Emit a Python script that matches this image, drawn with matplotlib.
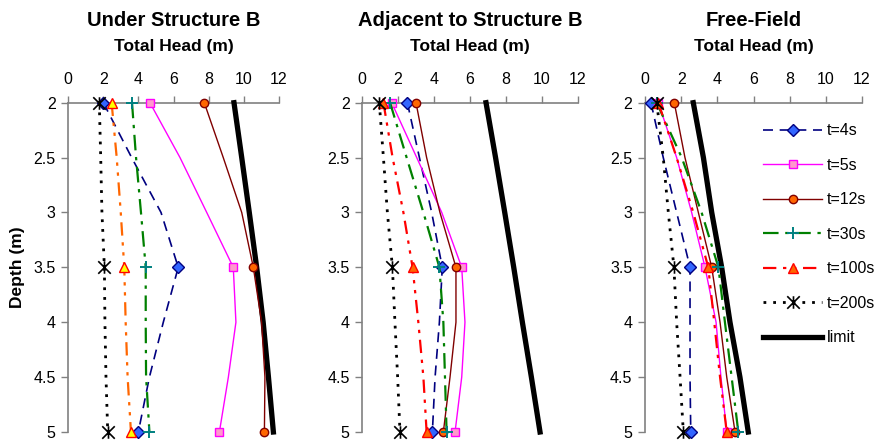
import matplotlib
matplotlib.use("Agg")
import matplotlib.pyplot as plt
from matplotlib.path import Path

plt.rcParams['font.family'] = ['Liberation Sans', 'DejaVu Sans']

# ---------------- data ----------------
depth = [2.0, 2.5, 3.0, 3.5, 4.0, 4.5, 5.0]
marker_depths = [2.0, 3.5, 5.0]
x_ticks = [0, 2, 4, 6, 8, 10, 12]
y_ticks = [2, 2.5, 3, 3.5, 4, 4.5, 5]
y_tick_labels = ['2', '2.5', '3', '3.5', '4', '4.5', '5']
titles = ['Under Structure B', 'Adjacent to Structure B', 'Free-Field']
series_names = ['t=4s', 't=5s', 't=12s', 't=30s', 't=100s', 't=200s', 'limit']

# panel 1 : Under Structure B (total head, m, at each depth)
under_t4 = [2.01, 3.62, 5.29, 6.27, 5.42, 4.63, 4.00]
under_t5 = [4.66, 6.37, 7.89, 9.40, 9.55, 9.12, 8.61]
under_t12 = [7.75, 8.83, 9.88, 10.54, 11.01, 11.20, 11.17]
under_t30 = [3.64, 3.87, 4.15, 4.42, 4.42, 4.44, 4.63]
under_t100 = [2.48, 2.77, 3.00, 3.20, 3.28, 3.39, 3.58]
under_t200 = [1.78, 1.86, 1.93, 2.07, 2.10, 2.16, 2.26]
under_limit = [9.44, 9.88, 10.31, 10.73, 11.10, 11.40, 11.68]

# panel 2 : Adjacent to Structure B
adj_t4 = [2.52, 3.19, 3.87, 4.46, 4.30, 4.06, 3.91]
adj_t5 = [1.65, 3.04, 4.43, 5.54, 5.72, 5.54, 5.17]
adj_t12 = [3.00, 3.59, 4.33, 5.22, 5.22, 4.89, 4.52]
adj_t30 = [1.56, 2.48, 3.41, 4.30, 4.52, 4.61, 4.70]
adj_t100 = [1.19, 1.70, 2.30, 2.81, 3.13, 3.41, 3.59]
adj_t200 = [0.96, 1.19, 1.41, 1.69, 1.83, 1.98, 2.11]
adj_limit = [6.89, 7.42, 7.93, 8.43, 8.91, 9.41, 9.89]

# panel 3 : Free-Field
ff_t4 = [0.33, 1.01, 1.75, 2.49, 2.49, 2.49, 2.53]
ff_t5 = [0.74, 1.75, 2.58, 3.32, 3.93, 4.20, 4.52]
ff_t12 = [1.62, 2.21, 2.95, 3.69, 4.15, 4.52, 4.98]
ff_t30 = [0.65, 2.03, 3.13, 4.06, 4.42, 4.79, 5.16]
ff_t100 = [0.74, 1.75, 2.67, 3.50, 3.83, 4.15, 4.52]
ff_t200 = [0.65, 1.01, 1.29, 1.60, 1.75, 1.94, 2.12]
ff_limit = [2.67, 3.23, 3.69, 4.24, 4.70, 5.25, 5.71]

panels = [
    [under_t4, under_t5, under_t12, under_t30, under_t100, under_t200, under_limit],
    [adj_t4, adj_t5, adj_t12, adj_t30, adj_t100, adj_t200, adj_limit],
    [ff_t4, ff_t5, ff_t12, ff_t30, ff_t100, ff_t200, ff_limit],
]

# Excel-like star marker: an X plus a vertical stroke
star = Path([(-1, -1), (1, 1), (-1, 1), (1, -1), (0, -1), (0, 1)],
            [Path.MOVETO, Path.LINETO, Path.MOVETO, Path.LINETO, Path.MOVETO, Path.LINETO])

# ---------------- styles ----------------
def styles(panel_idx):
    red_line = '#FF6600' if panel_idx == 0 else '#FF0000'
    tri_fill = '#FFFF00' if panel_idx == 0 else '#FF6600'
    return [
        dict(color='#000080', ls=(0, (6, 4)), lw=1.2, marker='D', mfc='#3366FF', mec='#000080', ms=6),
        dict(color='#FF00FF', ls='-', lw=1.0, marker='s', mfc='#FF99CC', mec='#FF00FF', ms=6),
        dict(color='#800000', ls='-', lw=1.0, marker='o', mfc='#FF6600', mec='#800000', ms=6),
        dict(color='#008000', ls=(0, (7, 3, 1.5, 3)), lw=1.6, marker='+', mfc='none', mec='#008080', ms=9, mew=1.4),
        dict(color=red_line, ls=(0, (6, 3, 1.5, 3, 1.5, 3)), lw=1.6, marker='^', mfc=tri_fill, mec='#FF0000', ms=7),
        dict(color='#000000', ls=(0, (1, 2.5)), lw=2.0, marker=star, mfc='none', mec='#000000', ms=9, mew=1.2),
        dict(color='#000000', ls='-', lw=3.8, marker=None),
    ]

W, H = 877, 442
fig = plt.figure(figsize=(W / 100, H / 100), dpi=100)

axes_px = [(68, 279), (362, 578), (645, 862)]
top_px, bot_px = 102.7, 432.0
spine_col = '#808080'

for pi, (x0, x1) in enumerate(axes_px):
    ax = fig.add_axes([x0 / W, 1 - bot_px / H, (x1 - x0) / W, (bot_px - top_px) / H])
    st = styles(pi)
    mk_idx = [depth.index(d) for d in marker_depths]
    for si, vals in enumerate(panels[pi]):
        s = dict(st[si])
        if s.get('marker') is None:
            s.pop('marker')
            ax.plot(vals, depth, clip_on=False, zorder=3, label=series_names[si], **s)
        else:
            ax.plot(vals, depth, markevery=mk_idx, clip_on=False, zorder=4,
                    label=series_names[si], **s)
    ax.set_xlim(0, 12)
    ax.set_ylim(5, 2)
    ax.xaxis.tick_top()
    ax.xaxis.set_label_position('top')
    ax.set_xticks(x_ticks)
    ax.set_yticks(y_ticks)
    ax.set_yticklabels(y_tick_labels)
    ax.tick_params(axis='both', direction='out', length=5, width=1, color=spine_col,
                   labelsize=11.5, pad=4)
    ax.tick_params(axis='x', pad=6)
    for sp in ['bottom', 'right']:
        ax.spines[sp].set_visible(False)
    for sp in ['top', 'left']:
        ax.spines[sp].set_color(spine_col)
        ax.spines[sp].set_linewidth(1.2)
    ax.patch.set_visible(False)
    cx = (x0 + x1) / 2 / W
    fig.text(cx, 1 - 20 / H, titles[pi], ha='center', va='center', fontsize=14.5, fontweight='bold')
    fig.text(cx, 1 - 46 / H, 'Total Head (m)', ha='center', va='center', fontsize=12.5, fontweight='bold')
    if pi == 0:
        fig.text(18 / W, 1 - 267 / H, 'Depth (m)', rotation=90, ha='center', va='center',
                 fontsize=12.5, fontweight='bold')
    if pi == 2:
        leg = ax.legend(loc='upper left', bbox_to_anchor=(0.544, 0.937), frameon=False,
                        fontsize=11.5, handlelength=3.7, handletextpad=0.3, labelspacing=1.22,
                        borderaxespad=0, borderpad=0, numpoints=1)
        for h in leg.legend_handles:
            h.set_markevery([1])

fig.savefig('out.png', dpi=100)
